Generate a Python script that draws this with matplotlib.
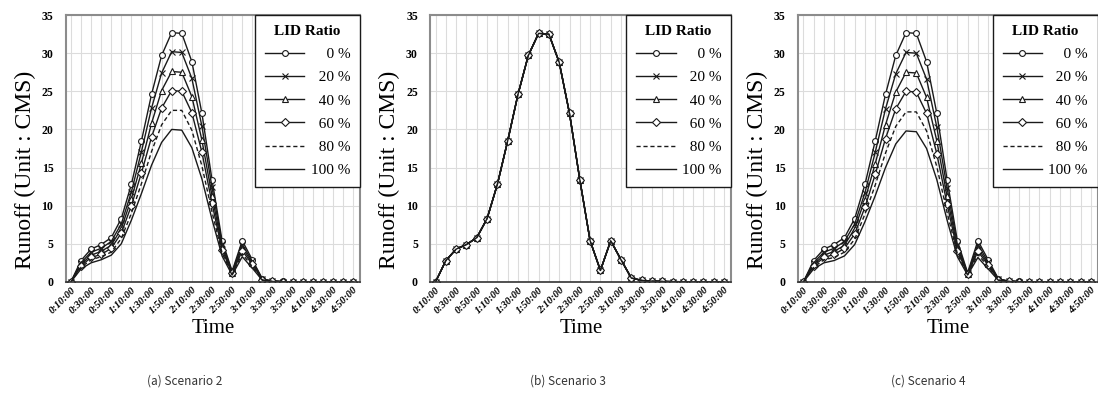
import numpy as np
import matplotlib
matplotlib.use("Agg")
import matplotlib.pyplot as plt

# time steps (10 min)
times = ["0:10:00", "0:20:00", "0:30:00", "0:40:00", "0:50:00", "1:00:00", "1:10:00", "1:20:00",
         "1:30:00", "1:40:00", "1:50:00", "2:00:00", "2:10:00", "2:20:00", "2:30:00", "2:40:00",
         "2:50:00", "3:00:00", "3:10:00", "3:20:00", "3:30:00", "3:40:00", "3:50:00", "4:00:00",
         "4:10:00", "4:20:00", "4:30:00", "4:40:00", "4:50:00"]

ratios = ["0 %", "20 %", "40 %", "60 %", "80 %", "100 %"]

# Scenario 2
s2_0 = [0, 2.8, 4.3, 4.9, 5.8, 8.3, 12.8, 18.5, 24.6, 29.7, 32.7, 32.6, 28.9, 22.1, 13.4, 5.4, 1.4, 5.4, 2.9, 0.4, 0.1, 0.05, 0, 0, 0, 0, 0, 0, 0]
s2_20 = [0, 2.5, 3.9, 4.4, 5.3, 7.6, 11.8, 17.1, 22.8, 27.4, 30.2, 30.1, 26.7, 20.4, 12.4, 5.0, 1.3, 4.9, 2.7, 0.35, 0.1, 0.04, 0, 0, 0, 0, 0, 0, 0]
s2_40 = [0, 2.3, 3.5, 4.0, 4.8, 7.0, 10.9, 15.6, 20.8, 25.1, 27.6, 27.5, 24.3, 18.6, 11.3, 4.6, 1.2, 4.5, 2.5, 0.3, 0.08, 0.03, 0, 0, 0, 0, 0, 0, 0]
s2_60 = [0, 2.1, 3.2, 3.6, 4.4, 6.4, 10.0, 14.3, 19.0, 22.8, 25.1, 25.0, 22.2, 17.0, 10.3, 4.2, 1.1, 4.1, 2.3, 0.3, 0.07, 0.03, 0, 0, 0, 0, 0, 0, 0]
s2_80 = [0, 1.9, 2.9, 3.3, 3.9, 5.7, 9.0, 12.9, 17.1, 20.6, 22.5, 22.5, 19.9, 15.2, 9.2, 3.8, 1.0, 3.7, 2.0, 0.25, 0.06, 0.02, 0, 0, 0, 0, 0, 0, 0]
s2_100 = [0, 1.7, 2.5, 2.9, 3.5, 5.0, 8.1, 11.6, 15.3, 18.3, 20.0, 19.9, 17.6, 13.5, 8.2, 3.4, 0.9, 3.3, 1.8, 0.2, 0.05, 0.02, 0, 0, 0, 0, 0, 0, 0]

# Scenario 3 (all ratios give the same hydrograph)
s3 = [0, 2.8, 4.3, 4.9, 5.8, 8.3, 12.8, 18.5, 24.6, 29.7, 32.6, 32.5, 28.8, 22.1, 13.4, 5.4, 1.5, 5.4, 2.9, 0.5, 0.2, 0.1, 0.05, 0.03, 0.02, 0, 0, 0, 0]

# Scenario 4
s4_0 = [0, 2.8, 4.3, 4.9, 5.8, 8.3, 12.8, 18.5, 24.6, 29.7, 32.7, 32.6, 28.9, 22.1, 13.4, 5.4, 1.2, 5.4, 2.9, 0.4, 0.1, 0.05, 0, 0, 0, 0, 0, 0, 0]
s4_20 = [0, 2.5, 3.9, 4.4, 5.3, 7.6, 11.7, 17.0, 22.7, 27.3, 30.1, 30.0, 26.6, 20.3, 12.3, 4.9, 1.1, 4.9, 2.6, 0.35, 0.1, 0.04, 0, 0, 0, 0, 0, 0, 0]
s4_40 = [0, 2.3, 3.5, 4.0, 4.8, 7.0, 10.8, 15.5, 20.6, 24.9, 27.5, 27.4, 24.2, 18.5, 11.2, 4.5, 1.05, 4.4, 2.4, 0.3, 0.08, 0.03, 0, 0, 0, 0, 0, 0, 0]
s4_60 = [0, 2.1, 3.2, 3.6, 4.4, 6.3, 9.8, 14.1, 18.8, 22.7, 25.0, 24.9, 22.1, 16.8, 10.2, 4.1, 1.0, 4.0, 2.2, 0.3, 0.07, 0.03, 0, 0, 0, 0, 0, 0, 0]
s4_80 = [0, 1.9, 2.9, 3.2, 3.9, 5.6, 8.9, 12.7, 16.9, 20.4, 22.3, 22.3, 19.8, 15.1, 9.1, 3.7, 0.95, 3.6, 2.0, 0.25, 0.06, 0.02, 0, 0, 0, 0, 0, 0, 0]
s4_100 = [0, 1.7, 2.5, 2.8, 3.4, 4.9, 7.9, 11.3, 15.0, 18.1, 19.8, 19.7, 17.5, 13.4, 8.1, 3.3, 0.9, 3.2, 1.7, 0.2, 0.05, 0.02, 0, 0, 0, 0, 0, 0, 0]

panels = [
    ("(a) Scenario 2", [s2_0, s2_20, s2_40, s2_60, s2_80, s2_100]),
    ("(b) Scenario 3", [s3, s3, s3, s3, s3, s3]),
    ("(c) Scenario 4", [s4_0, s4_20, s4_40, s4_60, s4_80, s4_100]),
]

styles = [
    dict(marker="o", ls="-"),
    dict(marker="x", ls="-"),
    dict(marker="^", ls="-"),
    dict(marker="D", ls="-", markersize=3.6),
    dict(marker=None, ls=(0, (3, 2))),
    dict(marker=None, ls="-"),
]

SERIF = "Liberation Serif"

# axes boxes [left, width] in figure fraction, and caption centres
boxes = [(0.060, 0.268), (0.392, 0.274), (0.727, 0.273)]
cap_x = [0.168, 0.517, 0.845]

fig = plt.figure(figsize=(10.98, 3.97), dpi=100)
x = np.arange(len(times))

for (caption, series), (left, width), cx in zip(panels, boxes, cap_x):
    ax = fig.add_axes([left, 0.290, width, 0.672])
    for vals, st, lab in zip(series, styles, ratios):
        kw = dict(color="#1a1a1a", lw=1.0, markersize=4.2, markerfacecolor="white",
                  markeredgecolor="#1a1a1a", markeredgewidth=0.8)
        kw.update(st)
        pad = " " * (2 * (5 - len(lab)))  # right-align labels in the legend
        ax.plot(x, vals, label=pad + lab, **kw)

    ax.set_xlim(-0.5, len(times) - 0.3)
    ax.set_ylim(0, 35)
    ax.set_yticks(range(0, 36, 5))
    ax.set_xticks(x[::2])
    ax.set_xticklabels(times[::2], rotation=45, ha="right", rotation_mode="anchor",
                       fontsize=7.5, fontweight="bold", fontstyle="italic", family=SERIF)
    for t in ax.get_yticklabels():
        t.set_fontsize(8.5)
        t.set_fontweight("bold")
        t.set_family(SERIF)
    ax.set_xticks(x, minor=True)
    ax.grid(True, which="minor", axis="x", color="#dcdcdc", lw=0.8)
    ax.grid(True, which="major", color="#dcdcdc", lw=0.8)
    ax.set_axisbelow(True)
    ax.tick_params(axis="y", length=0, pad=9)
    ax.tick_params(axis="x", length=0, pad=3)
    ax.tick_params(which="minor", length=0)
    for side in ["top", "left", "right"]:
        ax.spines[side].set_color("#8c8c8c")
        ax.spines[side].set_linewidth(1.5)
    ax.spines["bottom"].set_color("#333333")
    ax.spines["bottom"].set_linewidth(1.2)

    ax.set_ylabel("Runoff (Unit : CMS)", family=SERIF, fontsize=17)
    ax.yaxis.set_label_coords(-0.10, 0.42)
    ax.set_xlabel("Time", family=SERIF, fontsize=15, labelpad=2)

    leg = ax.legend(loc="upper right", bbox_to_anchor=(1.0, 1.0), borderaxespad=0,
                    title="LID Ratio", prop={"family": SERIF, "size": 11},
                    handlelength=2.6, labelspacing=0.62, fancybox=False,
                    framealpha=1, edgecolor="#1a1a1a", borderpad=0.65, handletextpad=0.4)
    leg.get_title().set_fontweight("bold")
    leg.get_title().set_family(SERIF)
    leg.get_title().set_fontsize(11)
    leg.get_frame().set_linewidth(1.0)

    fig.text(cx, 0.04, caption, ha="center", va="center",
             fontsize=8.5, color="#333333", family="Noto Sans CJK KR")

fig.savefig("out.png", dpi=100)
